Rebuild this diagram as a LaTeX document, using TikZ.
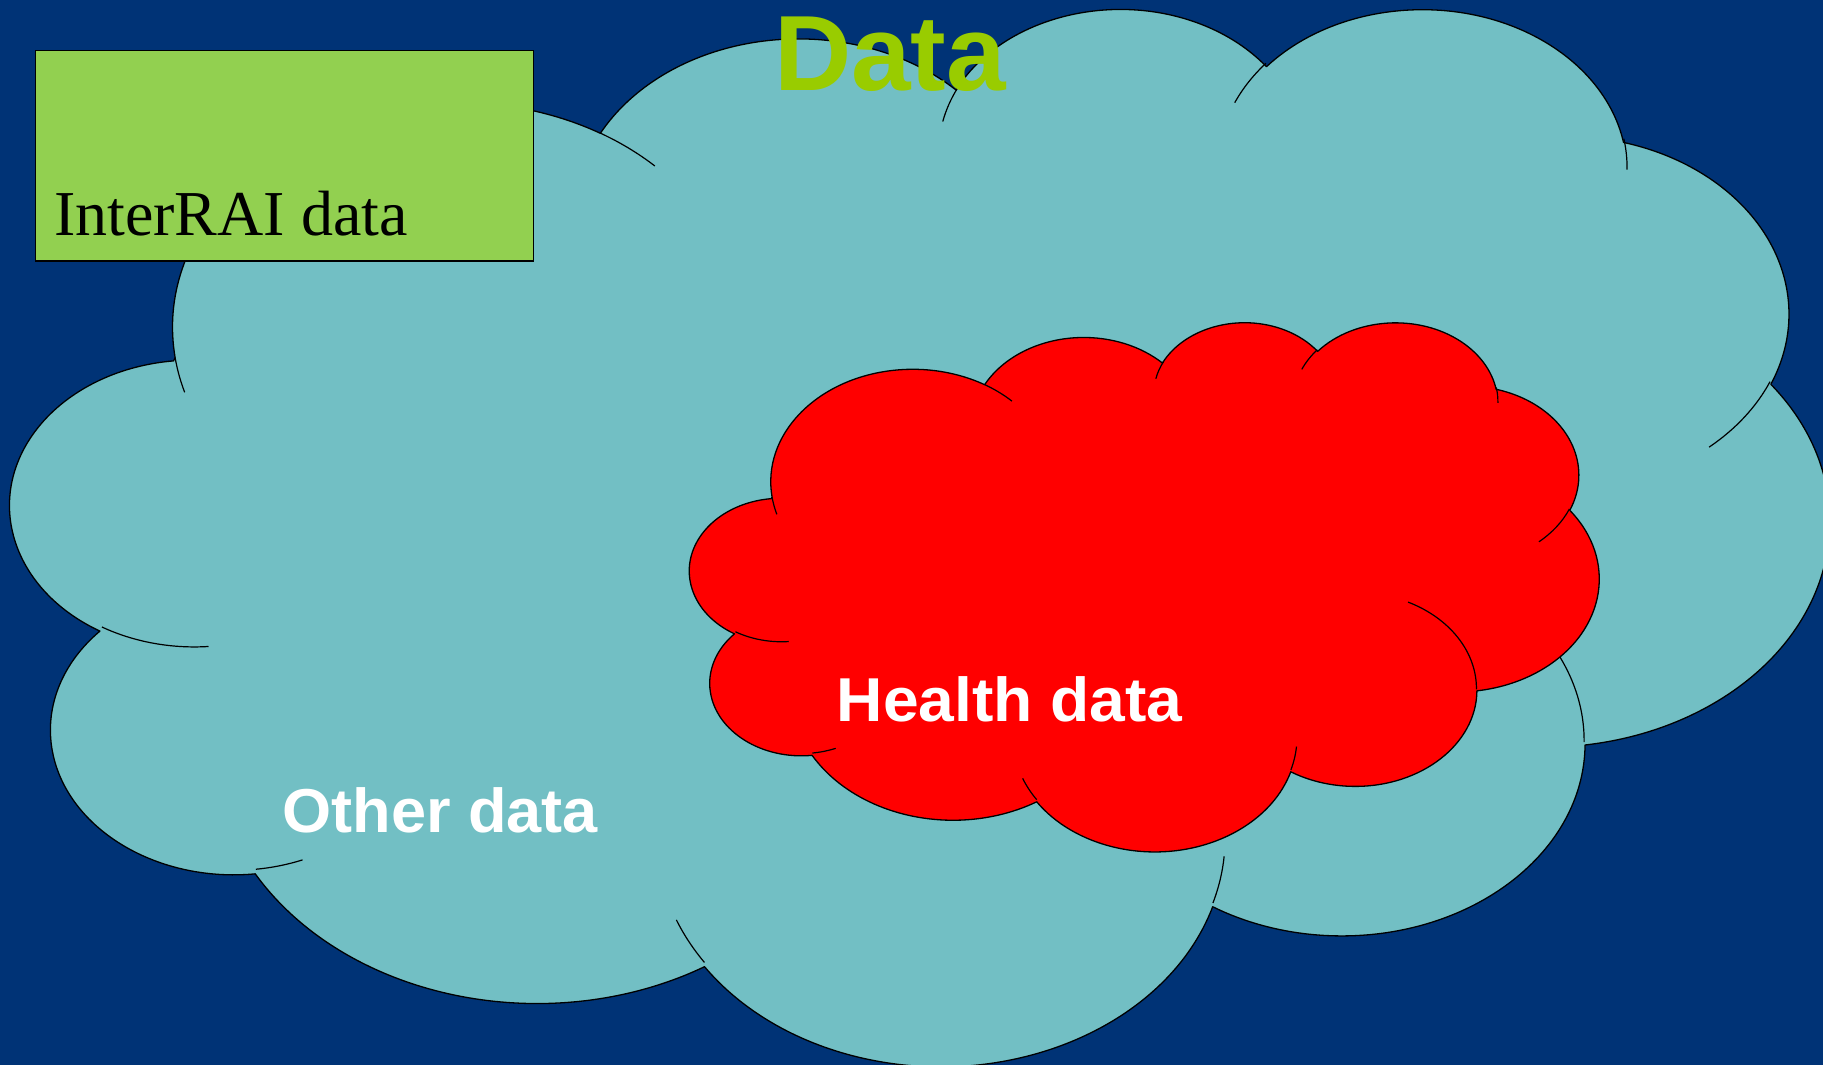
\documentclass[tikz,border=0pt]{standalone}
\usepackage{fontspec}
\setmainfont{Liberation Serif}
\newfontfamily\arialfont{Liberation Sans}
\definecolor{bgblue}{RGB}{0,51,118}
\definecolor{cloudcyan}{RGB}{114,191,196}
\definecolor{boxgreen}{RGB}{146,208,80}
\definecolor{titlegreen}{RGB}{153,204,0}
\definecolor{hred}{RGB}{255,0,0}
% arc with OOXML-style visual angles -> parametric angles
\newcommand\mkarc[5]{%
  \pgfmathsetmacro\mkA{atan2((#2)*sin(#4),(#3)*cos(#4))}%
  \pgfmathsetmacro\mkB{atan2((#2)*sin((#4)+(#5)),(#3)*cos((#4)+(#5)))}%
  \pgfmathsetmacro\mkB{ifthenelse(\mkB<\mkA,\mkB+360,\mkB)}%
  \expandafter\xdef\csname cl#1\endcsname{arc[start angle=\mkA,end angle=\mkB,x radius=#2,y radius=#3]}%
}
\newcommand\cloudshape{(390,1437) \clA \clB \clC \clD \clE \clF \clG \clH \clI \clJ \clK -- cycle}
\newcommand\cloudtails{(469.3,2617.7) \clTA (692.8,3489.9) \clTB (1647.8,3909.0) \clTC
  (2882.7,3475.1) \clTD (3412.9,2295.4) \clTE (4179.8,1535.4) \clTF (3832.4,542.6) \clTG
  (2907.8,395.2) \clTH (2214.1,472.0) \clTI (1400.0,519.2) \clTJ (412.7,1578.9) \clTK}
\tikzset{
  cloudline/.style={draw=black,line width=1.3pt,line join=round},
  tailline/.style={draw=black,line width=1.2pt},
  sanslabel/.style={inner sep=0pt,anchor=base west,font={\arialfont\bfseries\fontsize{62}{70}\selectfont}}
}
\begin{document}
\mkarc{A}{675.3}{919.0}{-190.4875}{123.7805}%
\mkarc{B}{533.3}{726.7}{-144.1024}{89.9452}%
\mkarc{C}{436.5}{594.5}{-145.8079}{99.7230}%
\mkarc{D}{485.7}{659.5}{-130.9861}{117.2417}%
\mkarc{E}{533.3}{727.3}{-78.7089}{109.0269}%
\mkarc{F}{677.5}{922.0}{-46.2673}{130.2690}%
\mkarc{G}{578.5}{786.7}{0.6250}{114.0333}%
\mkarc{H}{675.2}{921.5}{22.4516}{115.1726}%
\mkarc{I}{772.0}{1054.3}{66.2426}{75.7110}%
\mkarc{J}{436.0}{591.8}{-274.9421}{146.7356}%
\mkarc{K}{434.5}{594.5}{-246.8285}{152.5189}%
\mkarc{TA}{434.5}{594.5}{86.7420}{26.4295}%
\mkarc{TB}{436.0}{591.8}{73.6105}{11.4475}%
\mkarc{TC}{675.2}{921.5}{137.6242}{14.0811}%
\mkarc{TD}{675.2}{921.5}{6.4533}{15.9984}%
\mkarc{TE}{578.5}{786.7}{-70.2924}{70.9174}%
\mkarc{TF}{533.3}{727.3}{30.3180}{27.7515}%
\mkarc{TG}{485.7}{659.5}{-13.7443}{14.8622}%
\mkarc{TH}{485.7}{659.5}{-149.1815}{18.1954}%
\mkarc{TI}{436.5}{594.5}{-163.4943}{17.6864}%
\mkarc{TJ}{675.3}{919.0}{-66.7070}{12.3194}%
\mkarc{TK}{675.3}{919.0}{157.6544}{11.8582}%
\begin{tikzpicture}[x=1pt,y=-1pt]
\useasboundingbox (0,0) rectangle (1823,1065);
\fill[bgblue] (0,0) rectangle (1823,1065);
% big cloud
\begin{scope}[shift={(11,6)},x=0.42083pt,y=-0.24468pt]
  \path[cloudline,fill=cloudcyan] \cloudshape;
  \path[tailline] \cloudtails;
\end{scope}
% red cloud
\begin{scope}[shift={(690,321)},x=0.21039pt,y=-0.12245pt]
  \path[cloudline,fill=hred] \cloudshape;
  \path[tailline] \cloudtails;
\end{scope}
% green box
\node[name=box,draw=black,line width=1.3pt,fill=boxgreen,anchor=north west,
      minimum width=497.6pt,minimum height=210.4pt,inner sep=0pt] at (34.9,50) {};
\node[name=interrai,inner sep=0pt,anchor=base west,text=black,
      font={\fontsize{64}{72}\selectfont}] at (53.9,235.7) {InterRAI data};
% title
\node[name=title,inner sep=0pt,anchor=base west,text=titlegreen,
      font={\arialfont\bfseries\fontsize{107}{120}\selectfont}] at (774,90.7) {Data};
% labels
\node[name=health,sanslabel,text=white,xscale=1.035] at (836.5,721) {Health data};
\node[name=other,sanslabel,text=white,xscale=1.018] at (282.3,832) {Other data};
\end{tikzpicture}
\end{document}
